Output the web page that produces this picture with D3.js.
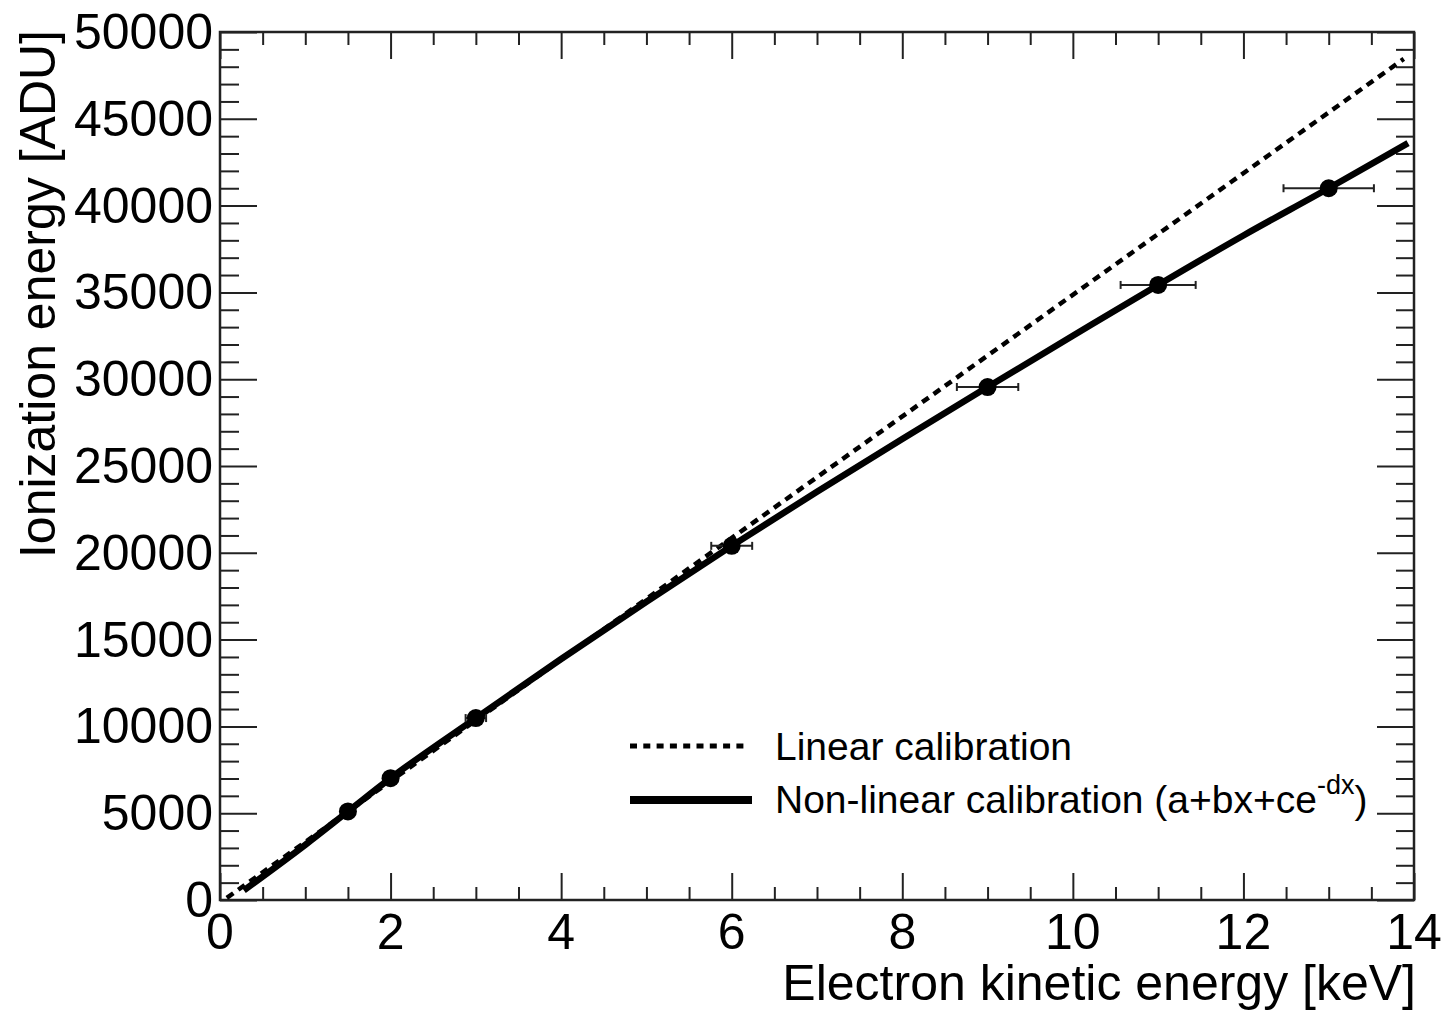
<!DOCTYPE html>
<html>
<head>
<meta charset="utf-8">
<script src="https://cdn.jsdelivr.net/npm/d3@7"></script>
<style>
  body { margin: 0; background: #fff; }
  svg { font-family: "Liberation Sans", Arial, Helvetica, sans-serif; }
</style>
</head>
<body>
<div id="chart"></div>
<script>
// measured points
const pointX = [1.5, 2, 3, 6, 9, 11, 13];
const pointY = [5100, 7020, 10480, 20400, 29550, 35430, 41000];
const pointXErr = [0.03, 0.05, 0.12, 0.24, 0.36, 0.44, 0.53];

// linear calibration line
const linearX = [0.08, 13.88];
const linearY = [120, 48450];

// non-linear fit curve a+bx+ce^-dx
const fitX = [0.28, 1, 1.5, 2, 3, 4, 5, 6, 7, 8, 9, 10, 11, 12, 13, 13.93];
const fitY = [560, 3180, 5100, 7020, 10480, 13880, 17180, 20400, 23520, 26560, 29550, 32500, 35430, 38280, 41000, 43600];

const xTicks = [0, 2, 4, 6, 8, 10, 12, 14];
const yTicks = [0, 5000, 10000, 15000, 20000, 25000, 30000, 35000, 40000, 45000, 50000];

const width = 1445, height = 1010;
const margin = {top: 32, right: 31, bottom: 110, left: 220};
const w = width - margin.left - margin.right;
const h = height - margin.top - margin.bottom;

const svg = d3.select('#chart').append('svg')
  .attr('width', width)
  .attr('height', height);

const g = svg.append('g')
  .attr('transform', `translate(${margin.left},${margin.top})`);

const x = d3.scaleLinear().domain([0, 14]).range([0, w]);
const y = d3.scaleLinear().domain([0, 50000]).range([h, 0]);

// ROOT style ticks: major ticks long, minor ones short, mirrored on all sides
const xMinor = d3.range(0, 14.001, 0.5).filter(v => !xTicks.includes(v));
const yMinor = d3.range(0, 50001, 1000).filter(v => !yTicks.includes(v));

function tickAxis(axisFn, scale, values, size) {
  return axisFn(scale).tickValues(values).tickSize(size).tickFormat('');
}

// bottom
g.append('g').attr('transform', `translate(0,${h})`)
  .call(tickAxis(d3.axisTop, x, xTicks, 27));
g.append('g').attr('transform', `translate(0,${h})`)
  .call(tickAxis(d3.axisTop, x, xMinor, 13));
// top
g.append('g').call(tickAxis(d3.axisBottom, x, xTicks, 27));
g.append('g').call(tickAxis(d3.axisBottom, x, xMinor, 13));
// left
g.append('g').call(tickAxis(d3.axisRight, y, yTicks, 37));
g.append('g').call(tickAxis(d3.axisRight, y, yMinor, 19));
// right
g.append('g').attr('transform', `translate(${w},0)`)
  .call(tickAxis(d3.axisLeft, y, yTicks, 37));
g.append('g').attr('transform', `translate(${w},0)`)
  .call(tickAxis(d3.axisLeft, y, yMinor, 18));

g.selectAll('.domain').remove();
g.selectAll('.tick line').attr('stroke', '#222').attr('stroke-width', 2);

// frame
g.append('rect')
  .attr('x', 0).attr('y', 0).attr('width', w).attr('height', h)
  .attr('fill', 'none').attr('stroke', '#222').attr('stroke-width', 2.5);

// tick labels
g.selectAll('.xlab').data(xTicks).enter().append('text')
  .attr('class', 'xlab')
  .attr('x', d => x(d)).attr('y', h + 49)
  .attr('text-anchor', 'middle')
  .style('font-size', '50px')
  .text(d => d);

g.selectAll('.ylab').data(yTicks).enter().append('text')
  .attr('class', 'ylab')
  .attr('x', -7).attr('y', d => y(d) + 17)
  .attr('text-anchor', 'end')
  .style('font-size', '50px')
  .text(d => d);

// axis titles
svg.append('text')
  .attr('x', margin.left + w + 2).attr('y', 1000)
  .attr('text-anchor', 'end')
  .style('font-size', '50px')
  .text('Electron kinetic energy [keV]');

svg.append('text')
  .attr('transform', 'translate(55,30) rotate(-90)')
  .attr('text-anchor', 'end')
  .style('font-size', '50px')
  .text('Ionization energy [ADU]');

// curves
const line = d3.line().x(d => x(d[0])).y(d => y(d[1]));

g.append('path')
  .datum(d3.zip(linearX, linearY))
  .attr('d', line)
  .attr('fill', 'none')
  .attr('stroke', '#000')
  .attr('stroke-width', 4.5)
  .attr('stroke-dasharray', '8,6');

g.append('path')
  .datum(d3.zip(fitX, fitY))
  .attr('d', line.curve(d3.curveMonotoneX))
  .attr('fill', 'none')
  .attr('stroke', '#000')
  .attr('stroke-width', 6.5);

// error bars
const pts = pointX.map((v, i) => ({x: v, y: pointY[i], ex: pointXErr[i]}));

const eb = g.selectAll('.err').data(pts).enter().append('g').attr('class', 'err');
eb.append('line')
  .attr('x1', d => x(d.x - d.ex)).attr('x2', d => x(d.x + d.ex))
  .attr('y1', d => y(d.y)).attr('y2', d => y(d.y))
  .attr('stroke', '#222').attr('stroke-width', 2);
eb.each(function(d) {
  [d.x - d.ex, d.x + d.ex].forEach(v => {
    d3.select(this).append('line')
      .attr('x1', x(v)).attr('x2', x(v))
      .attr('y1', y(d.y) - 4).attr('y2', y(d.y) + 4)
      .attr('stroke', '#222').attr('stroke-width', 2);
  });
});

// markers
g.selectAll('.pt').data(pts).enter().append('circle')
  .attr('class', 'pt')
  .attr('cx', d => x(d.x)).attr('cy', d => y(d.y))
  .attr('r', 9)
  .attr('fill', '#000');

// legend
const leg = svg.append('g');
leg.append('line')
  .attr('x1', 630).attr('x2', 748).attr('y1', 746).attr('y2', 746)
  .attr('stroke', '#000').attr('stroke-width', 5)
  .attr('stroke-dasharray', '7,6.3');
leg.append('line')
  .attr('x1', 630).attr('x2', 752).attr('y1', 800).attr('y2', 800)
  .attr('stroke', '#000').attr('stroke-width', 8);

leg.append('text')
  .attr('x', 775).attr('y', 760)
  .style('font-size', '39px')
  .text('Linear calibration');

const t2 = leg.append('text')
  .attr('x', 775).attr('y', 813)
  .style('font-size', '39px');
t2.append('tspan').text('Non-linear calibration (a+bx+ce');
t2.append('tspan').attr('dy', -19).style('font-size', '27px').text('-dx');
t2.append('tspan').attr('dy', 19).text(')');
</script>
</body>
</html>
